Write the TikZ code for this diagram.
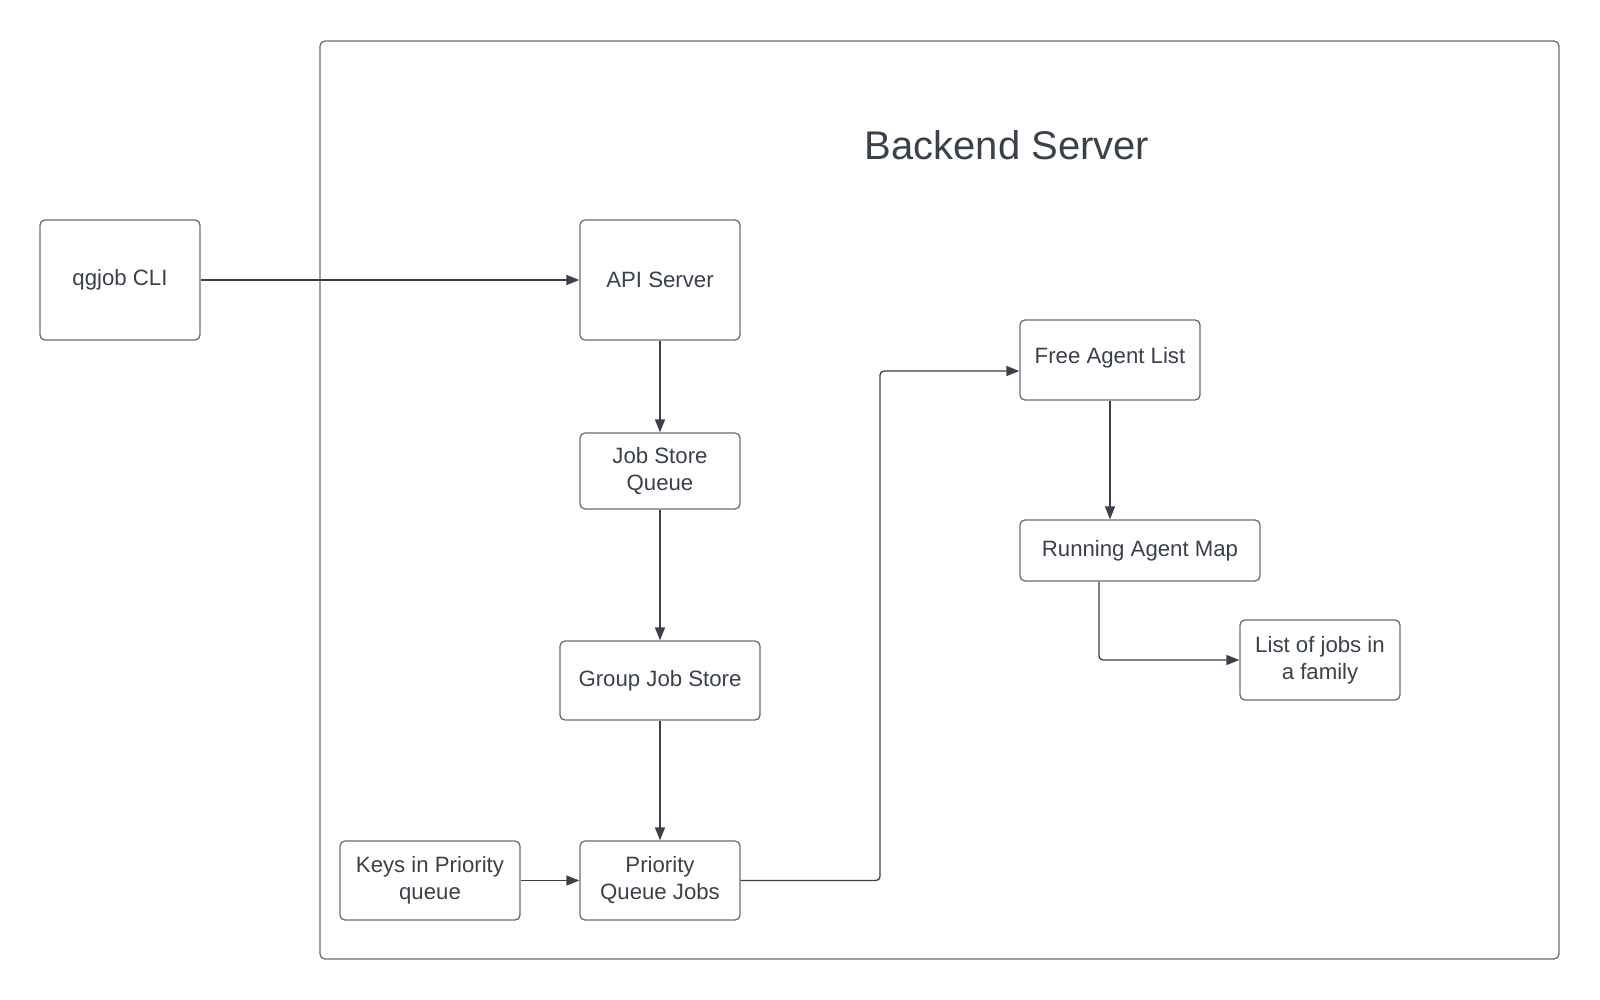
\documentclass[tikz,border=0pt]{standalone}
\usepackage{fontspec}
\setmainfont{Liberation Sans}
\usetikzlibrary{arrows.meta}
\definecolor{ink}{HTML}{3A414A}
\definecolor{edge}{HTML}{6A6E73}
\tikzset{
  box/.style={draw=edge, line width=1.3pt, rounded corners=5pt, text=ink, align=center, font=\fontsize{22.2}{27}\selectfont, inner sep=0pt},
  conn/.style={draw=ink, line width=1.3pt, rounded corners=4pt, -{Triangle[length=13pt,width=10pt]}}
}
\begin{document}
\begin{tikzpicture}[x=1pt,y=-1pt]
\useasboundingbox (0,0) rectangle (1600,1000);
\fill[white] (0,0) rectangle (1600,1000);
\draw[draw=edge, line width=1.3pt, rounded corners=5pt] (320,41) rectangle (1559,959);
\node[text=ink, font=\fontsize{40}{46}\selectfont] (title) at (1007,145) {Backend Server};
\node[box, minimum width=160pt, minimum height=120pt] (cli) at (120,280) {qgjob CLI};
\node[box, minimum width=160pt, minimum height=120pt] (api) at (660,280) {API Server};
\node[box, minimum width=160pt, minimum height=76pt] (jsq) at (660,471) {Job Store\\Queue};
\node[box, minimum width=200pt, minimum height=79pt] (gjs) at (660,680.5) {Group Job Store};
\node[box, minimum width=160pt, minimum height=79pt] (pqj) at (660,880.5) {Priority\\Queue Jobs};
\node[box, minimum width=180pt, minimum height=79pt] (keys) at (430,880.5) {Keys in Priority\\queue};
\node[box, minimum width=180pt, minimum height=80pt, text depth=10pt] (fal) at (1110,360) {Free Agent List};
\node[box, minimum width=240pt, minimum height=61pt] (ram) at (1140,550.5) {Running Agent Map};
\node[box, minimum width=160pt, minimum height=80pt] (lj) at (1320,660) {List of jobs in\\a family};
\path[conn] (cli.east) -- (api.west);
\path[conn] (api.south) -- (jsq.north);
\path[conn] (jsq.south) -- (gjs.north);
\path[conn] (gjs.south) -- (pqj.north);
\path[conn] (keys.east) -- (pqj.west);
\path[conn] (pqj.east) -- (880,880.5) -- (880,371) -- (fal.west |- 0,371);
\path[conn] (fal.south) -- (ram.north -| fal.south);
\path[conn] (ram.south -| 1099,0) -- (1099,660) -- (lj.west);
\end{tikzpicture}
\end{document}
